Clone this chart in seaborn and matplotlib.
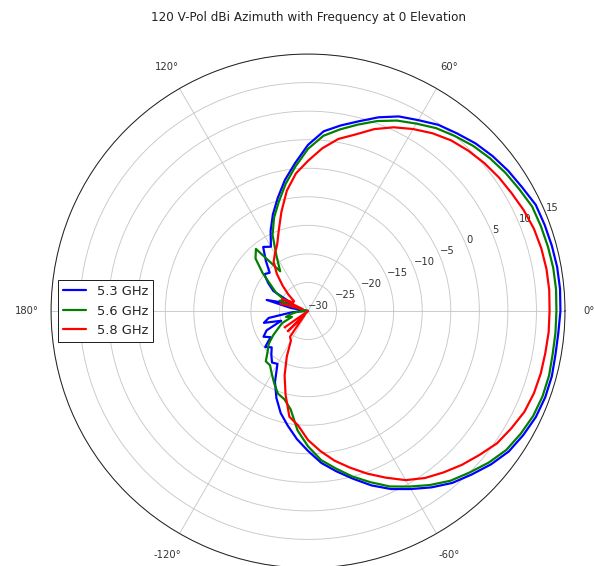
import numpy as np
import pandas as pd
import matplotlib
matplotlib.use("Agg")
import matplotlib.pyplot as plt
from matplotlib.lines import Line2D
import seaborn as sns

# ---------------- data ----------------
angles_deg = [-180, -175, -170, -165, -160, -155, -150, -145, -140, -135, -130, -125,
              -120, -115, -110, -105, -100, -95, -90, -85, -80, -75, -70, -65,
              -60, -55, -50, -45, -40, -35, -30, -25, -20, -15, -10, -5,
              0, 5, 10, 15, 20, 25, 30, 35, 40, 45, 50, 55,
              60, 65, 70, 75, 80, 85, 90, 95, 100, 105, 110, 115,
              120, 125, 130, 135, 140, 145, 150, 155, 160, 165, 170, 175, 180]

db_53 = [-29.0, -27.0, -23.0, -22.0, -25.0, -22.0, -21.0, -22.0, -20.2, -21.0, -20.0, -19.0,
         -19.3, -16.3, -13.8, -11.5, -9.6, -7.5, -5.5, -3.3, -1.5, 0.4, 2.5, 4.4,
         6.0, 7.7, 9.3, 10.5, 11.8, 12.9, 13.5, 14.0, 14.2, 14.2, 14.0, 14.0,
         14.2, 14.3, 14.3, 14.2, 14.1, 14.0, 13.3, 12.8, 12.2, 11.5, 10.6, 9.8,
         8.6, 7.6, 6.1, 4.4, 3.0, 1.6, -0.9, -4.0, -6.7, -9.5, -12.0, -14.5,
         -17.0, -16.3, -18.5, -20.5, -20.0, -21.5, -23.0, -27.0, -26.0, -22.5, -27.0, -30.0, -29.0]

db_56 = [-29.5, -28.0, -27.0, -26.0, -27.0, -25.0, -24.0, -22.5, -21.0, -20.0, -18.5, -18.4,
         -17.3, -16.0, -14.6, -14.0, -12.5, -9.0, -6.3, -3.8, -2.0, 0.0, 1.9, 3.9,
         5.5, 7.2, 8.8, 10.0, 11.3, 12.4, 13.0, 13.5, 13.7, 13.7, 13.5, 13.5,
         13.5, 13.6, 13.6, 13.5, 13.4, 13.3, 12.7, 12.2, 11.6, 10.9, 10.0, 9.1,
         7.9, 6.8, 5.4, 3.8, 2.3, 0.8, -1.6, -4.6, -7.4, -10.2, -12.6, -15.3,
         -19.0, -21.5, -15.8, -17.0, -19.6, -22.0, -23.5, -25.5, -24.7, -28.0, -29.5, -30.0, -29.5]

db_58 = [-31.0, -25.5, -31.0, -25.5, -31.0, -24.6, -31.0, -25.0, -30.0, -25.0, -29.0, -24.5,
         -24.0, -21.2, -18.0, -14.8, -11.2, -9.9, -7.4, -5.4, -3.4, -1.6, 0.3, 2.2,
         4.2, 5.7, 6.9, 8.1, 9.2, 10.4, 11.1, 11.8, 12.1, 12.2, 12.2, 12.3,
         12.3, 12.4, 12.4, 12.3, 12.1, 11.7, 11.2, 10.8, 10.3, 9.7, 9.0, 8.0,
         6.8, 5.5, 3.9, 2.0, 0.6, -1.4, -3.7, -5.8, -8.6, -12.0, -15.0, -17.2,
         -18.4, -19.5, -21.5, -23.7, -25.5, -27.0, -27.0, -25.0, -29.0, -25.0, -31.0, -25.5, -31.0]

series_names = ["5.3 GHz", "5.6 GHz", "5.8 GHz"]
series_colors = ["blue", "green", "red"]
r_ticks = [-30, -25, -20, -15, -10, -5, 0, 5, 10, 15]
theta_ticks = [0, 60, 120, 180, 240, 300]
theta_labels = ["0°", "60°", "120°", "180°", "-120°", "-60°"]
title = "120 V-Pol dBi Azimuth with Frequency at 0 Elevation"

# ---------------- build long table ----------------
frames = []
for name, vals in zip(series_names, [db_53, db_56, db_58]):
    frames.append(pd.DataFrame({
        "theta": np.deg2rad(np.array(angles_deg, dtype=float)),
        "dB": vals,
        "Frequency": name,
    }))
df = pd.concat(frames, ignore_index=True)

# ---------------- style ----------------
sns.set_style("white")
plt.rcParams["font.family"] = ["DejaVu Sans"]
plt.rcParams["font.size"] = 10

fig = plt.figure(figsize=(595 / 72, 566 / 72), dpi=72)
ax = fig.add_axes([0.0857, -0.0035, 0.864, 0.908], projection="polar")

sns.lineplot(data=df, x="theta", y="dB", hue="Frequency",
             palette=dict(zip(series_names, series_colors)),
             estimator=None, sort=False, lw=2.2, ax=ax, legend=False)

ax.set_rlim(-30, 15)
ax.set_rticks(r_ticks)
ax.set_rlabel_position(22.5)
ax.set_thetagrids(theta_ticks, theta_labels)
ax.grid(True, color="#c8c8c8", lw=0.9)
ax.spines["polar"].set_color("#222222")
ax.spines["polar"].set_linewidth(1.0)
ax.tick_params(labelsize=10, colors="#333333")
ax.tick_params(axis="x", pad=14)
ax.set_xlabel("")
ax.set_ylabel("")
ax.set_title(title, fontsize=12, color="#222222", y=1.053)

handles = [Line2D([], [], color=c, lw=2.2) for c in series_colors]
leg = ax.legend(handles, series_names, loc="center left", fontsize=13,
                fancybox=False, edgecolor="#222222", framealpha=1,
                handlelength=1.8)
leg.get_frame().set_linewidth(1.0)

fig.savefig("out.png", dpi=72)
